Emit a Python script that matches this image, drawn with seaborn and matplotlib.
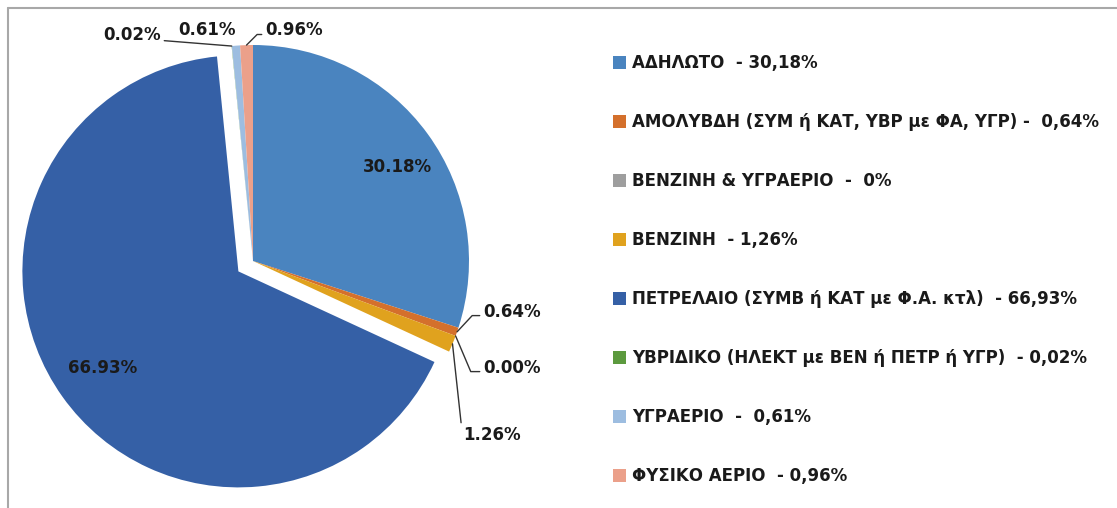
import numpy as np
import matplotlib
matplotlib.use("Agg")
import matplotlib.pyplot as plt
import seaborn as sns
from matplotlib.lines import Line2D

sns.set_theme(style="white")
plt.rcParams['font.family'] = ['DejaVu Sans']

# data
categories = ["ΑΔΗΛΩΤΟ", "ΑΜΟΛΥΒΔΗ (ΣΥΜ ή ΚΑΤ, ΥΒΡ με ΦΑ, ΥΓΡ)", "ΒΕΝΖΙΝΗ & ΥΓΡΑΕΡΙΟ",
              "ΒΕΝΖΙΝΗ", "ΠΕΤΡΕΛΑΙΟ (ΣΥΜΒ ή ΚΑΤ με Φ.Α. κτλ)",
              "ΥΒΡΙΔΙΚΟ (ΗΛΕΚΤ με ΒΕΝ ή ΠΕΤΡ ή ΥΓΡ)", "ΥΓΡΑΕΡΙΟ", "ΦΥΣΙΚΟ ΑΕΡΙΟ"]
shares = [30.18, 0.64, 0.00, 1.26, 66.93, 0.02, 0.61, 0.96]
legend_labels = ["ΑΔΗΛΩΤΟ  - 30,18%",
                 "ΑΜΟΛΥΒΔΗ (ΣΥΜ ή ΚΑΤ, ΥΒΡ με ΦΑ, ΥΓΡ) -  0,64%",
                 "ΒΕΝΖΙΝΗ & ΥΓΡΑΕΡΙΟ  -  0%",
                 "ΒΕΝΖΙΝΗ  - 1,26%",
                 "ΠΕΤΡΕΛΑΙΟ (ΣΥΜΒ ή ΚΑΤ με Φ.Α. κτλ)  - 66,93%",
                 "ΥΒΡΙΔΙΚΟ (ΗΛΕΚΤ με ΒΕΝ ή ΠΕΤΡ ή ΥΓΡ)  - 0,02%",
                 "ΥΓΡΑΕΡΙΟ  -  0,61%",
                 "ΦΥΣΙΚΟ ΑΕΡΙΟ  - 0,96%"]
colors = ["#4A84BF", "#D4702C", "#9E9E9E", "#E0A21E", "#3560A6", "#5C9A3E", "#9DBDE0", "#EBA08A"]
explode = [0, 0, 0, 0, 0.083, 0, 0, 0]

W, H = 1117, 508
fig = plt.figure(figsize=(W / 100, H / 100), dpi=100)

# pie placement (pixels from top-left)
cx, cy, r_px = 253, 261, 216
half = 1.2 * r_px
ax = fig.add_axes([(cx - half) / W, (H - cy - half) / H, 2 * half / W, 2 * half / H])
wedges, _ = ax.pie(shares, colors=colors, startangle=90, counterclock=False,
                   explode=explode, radius=1, wedgeprops=dict(linewidth=0))
ax.set_xlim(-1.2, 1.2)
ax.set_ylim(-1.2, 1.2)
ax.set_aspect('equal')
ax.axis('off')


def px2data(px, py):
    return ((px - cx) / r_px, (cy - py) / r_px)


def wedge_point(w, dist, shift=0.0):
    ang = np.deg2rad((w.theta1 + w.theta2) / 2 + shift)
    return (w.center[0] + dist * w.r * np.cos(ang), w.center[1] + dist * w.r * np.sin(ang))


fs = 12
pct = ["%.2f%%" % v for v in shares]

# labels inside the two big slices
for i, d, s in [(0, 0.8, -3), (4, 0.77, 0)]:
    ax.text(*wedge_point(wedges[i], d, s), pct[i], ha='center', va='center',
            fontsize=fs, fontweight='bold', color='#1a1a1a')

# outside labels with leader lines: (index, text pos in px, ha, relpos, connection)
outside = [
    (1, (483, 312), 'left', (0, 0.3), "angle,angleA=0,angleB=47,rad=0"),
    (2, (483, 368), 'left', (0, 0.3), "angle,angleA=0,angleB=-67,rad=0"),
    (3, (463, 435), 'left', (0, 0.2), "arc3,rad=0"),
    (5, (161, 35), 'right', (1, 0.2), "arc3,rad=0"),
    (6, (178, 30), 'left', None, None),
    (7, (265, 30), 'left', (0, 0.25), "angle,angleA=0,angleB=45,rad=0"),
]
for i, (tx, ty), ha, relpos, conn in outside:
    xy = wedge_point(wedges[i], 1.0)
    kw = dict(xy=xy, xytext=px2data(tx, ty), textcoords='data', ha=ha, va='center',
              fontsize=fs, fontweight='bold', color='#1a1a1a')
    if conn is not None:
        kw['arrowprops'] = dict(arrowstyle='-', color='#333333', lw=1.0,
                                connectionstyle=conn, relpos=relpos,
                                shrinkA=0, shrinkB=0)
    ax.annotate(pct[i], **kw)

# legend
fig.legend(wedges, legend_labels, loc='upper left',
           bbox_to_anchor=(605 / W, 1 - 46 / H), frameon=False,
           prop=dict(size=fs, weight='bold'), labelspacing=2.46,
           handlelength=0.75, handleheight=0.75, handletextpad=0.35, borderpad=0,
           labelcolor='#1a1a1a')

# chart frame (top and left edges visible)
fig.add_artist(Line2D([8 / W, 1.01], [1 - 8 / H, 1 - 8 / H], color='#A8A8A8', lw=1.5))
fig.add_artist(Line2D([8 / W, 8 / W], [1 - 8 / H, -0.01], color='#A8A8A8', lw=1.5))

fig.savefig("out.png", dpi=100, facecolor='white')
